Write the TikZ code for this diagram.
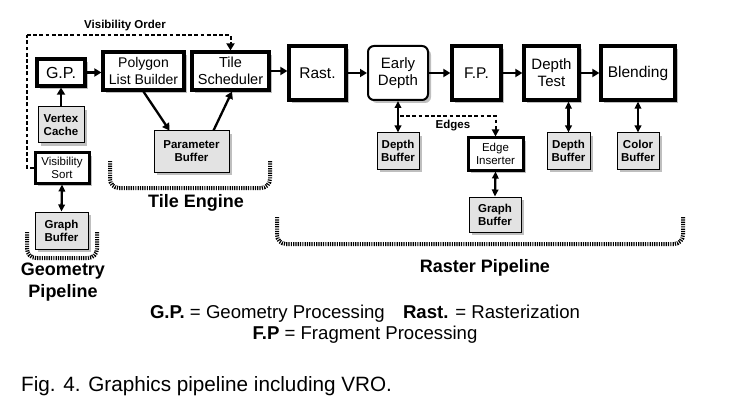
\documentclass[tikz,border=0pt]{standalone}
\usepackage{fontspec}
\setmainfont{Liberation Sans}
\usetikzlibrary{arrows.meta,shadows}
\begin{document}
\begin{tikzpicture}[x=1pt,y=-1pt,
  shd/.style={drop shadow={shadow xshift=3pt,shadow yshift=-3pt,fill=black!25,opacity=1}},
  mainbox/.style={draw,line width=3.2pt,fill=white,shd,align=center,inner sep=0pt},
  bufbox/.style={draw,line width=1pt,fill=black!11,shd,align=center,inner sep=0pt,font=\bfseries\fontsize{11.5}{13}\selectfont},
  ctlbox/.style={draw,line width=3pt,fill=white,shd,align=center,inner sep=0pt,font=\fontsize{11.5}{13}\selectfont},
  arr/.style={-{Triangle[length=7pt,width=8pt]},line width=2.3pt},
  darr/.style={{Triangle[length=7pt,width=6.5pt]}-{Triangle[length=7pt,width=6.5pt]},line width=2.3pt},
  vdashed/.style={line width=2pt,dash pattern=on 3.8pt off 2.4pt},
  brk/.style={line width=4pt,dash pattern=on 1.2pt off 1.1pt,rounded corners=9pt},
  lbl/.style={font=\bfseries\fontsize{11.5}{13}\selectfont},
  grp/.style={font=\bfseries\fontsize{18}{22}\selectfont,align=center}
]
\useasboundingbox (0,0) rectangle (732,412);

% main pipeline boxes
\node[mainbox,minimum width=48,minimum height=27,font=\fontsize{16}{18}\selectfont] (gp) at (61,72.5) {G.P.};
\node[mainbox,minimum width=81,minimum height=38,font=\fontsize{14}{17}\selectfont] (plb) at (143.5,71) {Polygon\\List Builder};
\node[mainbox,minimum width=77,minimum height=38,font=\fontsize{14.5}{17}\selectfont] (ts) at (230.5,71) {Tile\\Scheduler};
\node[mainbox,minimum width=57,minimum height=54,font=\fontsize{15.5}{17}\selectfont] (rast) at (317.5,73) {Rast.};
\node[draw,line width=2pt,rounded corners=6pt,fill=white,shd,align=center,inner sep=0pt,minimum width=60,minimum height=54,font=\fontsize{15}{17}\selectfont] (ed) at (398,73) {Early\\Depth};
\node[mainbox,minimum width=49,minimum height=54,font=\fontsize{15.5}{17}\selectfont] (fp) at (476.5,73) {F.P.};
\node[mainbox,minimum width=55,minimum height=54,font=\fontsize{15}{17}\selectfont] (dt) at (551.5,73) {Depth\\Test};
\node[mainbox,minimum width=74,minimum height=54,font=\fontsize{15.5}{17}\selectfont] (bl) at (638,73) {Blending};

% secondary boxes
\node[bufbox,minimum width=46,minimum height=36] (vc) at (61,125) {Vertex\\Cache};
\node[ctlbox,minimum width=54,minimum height=30] (vs) at (62,168) {Visibility\\Sort};
\node[bufbox,minimum width=53,minimum height=37] (gbl) at (61.5,230.5) {Graph\\Buffer};
\node[bufbox,minimum width=75,minimum height=41] (pb) at (191.5,151.5) {Parameter\\Buffer};
\node[bufbox,minimum width=42,minimum height=36] (db1) at (398,151) {Depth\\Buffer};
\node[ctlbox,minimum width=55,minimum height=32] (ei) at (495.5,154) {Edge\\Inserter};
\node[bufbox,minimum width=52,minimum height=35] (gbr) at (495,214.5) {Graph\\Buffer};
\node[bufbox,minimum width=43,minimum height=36] (db2) at (568.5,151) {Depth\\Buffer};
\node[bufbox,minimum width=42,minimum height=36] (cb) at (638,151) {Color\\Buffer};

% main flow arrows
\draw[arr] (gp.east) -- (gp.east -| plb.west);
\draw[arr] (ts.east) -- (ts.east -| rast.west);
\draw[arr] (rast) -- (ed);
\draw[arr] (ed) -- (fp);
\draw[arr] (fp) -- (dt);
\draw[arr] (dt) -- (bl);

% vertical arrows
\draw[arr] (vc.north) -- (gp.south);
\draw[darr] (vs.south) -- (gbl.north);
\draw[arr] (plb.south) -- ([xshift=-22pt]pb.north);
\draw[arr] ([xshift=22pt]pb.north) -- ([xshift=1.5pt]ts.south);
\draw[darr] (ed.south) -- (db1.north);
\draw[darr] (db2.north |- dt.south) -- (db2.north);
\draw[darr] (bl.south) -- (cb.north);
\draw[darr] (ei.south) -- (gbr.north);

% dashed connectors
\coordinate (vo1) at (27,168);
\coordinate (vo2) at (27,35);
\draw[vdashed] (vs.west) -- (vo1) -- (vo2);
\draw[vdashed,-{Triangle[length=7pt,width=8pt]}] (vo2) -| (ts.north);
\node[lbl] (volbl) at (125,26) {Visibility Order};

\coordinate (eg1) at (400,116);
\draw[vdashed,-{Triangle[length=7pt,width=7pt]}] (eg1) -| (ei.north);
\node[lbl] (eglbl) at (453,125.5) {Edges};

% group brackets
\draw[brk] (27,232) -- (27,258) -- (97,258) -- (97,232);
\draw[brk] (110,161) -- (110,188) -- (270,188) -- (270,161);
\draw[brk] (277,217) -- (277,244) -- (683,244) -- (683,217);

\node[grp] (geo) at (63,282) {Geometry\\Pipeline};
\node[grp] (tile) at (196,203) {Tile Engine};
\node[grp] (rp) at (485,268) {Raster Pipeline};

% legend
\node[font=\fontsize{18.6}{21}\selectfont,align=center] (leg) at (365,324.5) {\textbf{G.P.} = Geometry Processing\hspace{0.7em} \textbf{Rast.} = Rasterization\\\textbf{F.P} = Fragment Processing};

% caption
\node[anchor=west,font=\fontsize{20.7}{24}\selectfont,inner sep=0pt] (cap) at (21,386) {Fig. 4. Graphics pipeline including VRO.};
\end{tikzpicture}
\end{document}
